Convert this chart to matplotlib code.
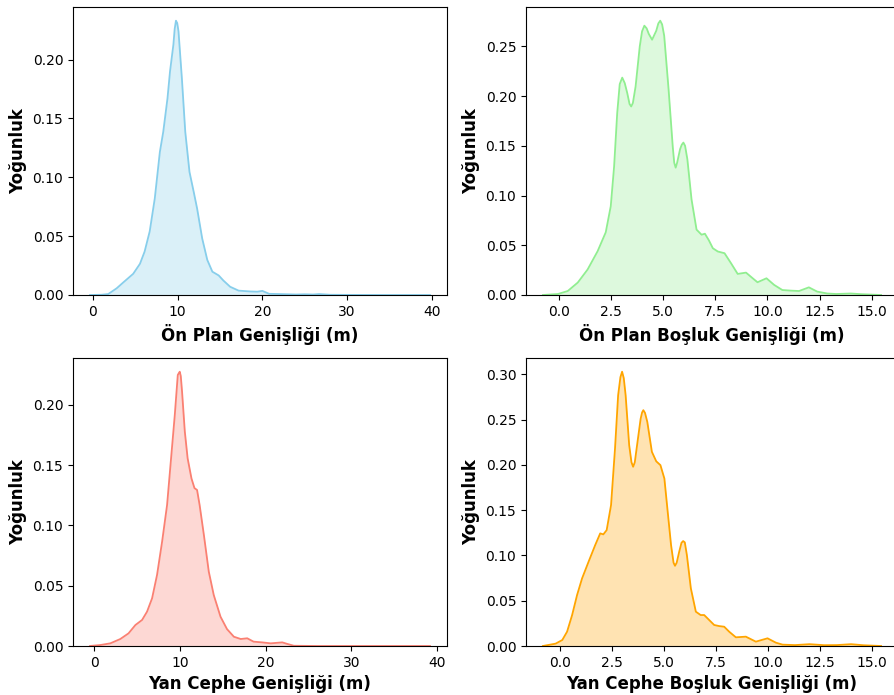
import numpy as np
import matplotlib
matplotlib.use("Agg")
import matplotlib.pyplot as plt

# ---------------------------------------------------------------
# Density curves (x in metres, y = density).
# ---------------------------------------------------------------
on_plan_x = [-0.35, 1.0, 1.8, 2.8, 3.6, 4.75, 5.55, 6.1, 6.7, 7.3, 7.9, 8.3, 8.8,
             9.1, 9.5, 9.65, 9.8, 9.95, 10.1, 10.5, 10.9, 11.4, 11.9, 12.3, 12.9,
             13.5, 14.1, 14.85, 15.4, 16.2, 17.2, 18.6, 19.4, 20.0, 20.8, 22.0,
             24.0, 25.0, 26.0, 26.7, 28.0, 30.0, 35.0, 39.8]
on_plan_y = [0, 0.0002, 0.0008, 0.0057, 0.0108, 0.018, 0.0265, 0.0369, 0.054,
             0.082, 0.1215, 0.1386, 0.167, 0.190, 0.2128, 0.226, 0.233, 0.231,
             0.224, 0.184, 0.1386, 0.1045, 0.0875, 0.0734, 0.048, 0.0298, 0.0198,
             0.0166, 0.0123, 0.007, 0.0037, 0.003, 0.0028, 0.0035, 0.001, 0.0008,
             0.0004, 0.0006, 0.0004, 0.0008, 0.0002, 0.0001, 0, 0]

on_bosluk_x = [-0.75, -0.03, 0.44, 0.92, 1.39, 1.87, 2.26, 2.5, 2.66, 2.81, 2.93,
               3.05, 3.17, 3.29, 3.4, 3.48, 3.56, 3.69, 3.89, 4.0, 4.11, 4.22,
               4.32, 4.48, 4.68, 4.78, 4.87, 4.96, 5.06, 5.27, 5.47, 5.54, 5.61,
               5.68, 5.82, 5.9, 5.98, 6.06, 6.17, 6.37, 6.61, 6.85, 7.01, 7.2,
               7.39, 7.63, 7.95, 8.26, 8.58, 8.98, 9.3, 9.53, 9.96, 10.33, 10.72,
               11.12, 11.52, 11.99, 12.39, 12.87, 13.3, 14.0, 14.5, 15.45]
on_bosluk_y = [0, 0.001, 0.004, 0.0125, 0.0256, 0.044, 0.063, 0.0892, 0.129,
               0.183, 0.212, 0.2185, 0.213, 0.203, 0.192, 0.1895, 0.193, 0.2096,
               0.250, 0.265, 0.2707, 0.268, 0.2625, 0.2566, 0.2656, 0.273,
               0.2757, 0.272, 0.2606, 0.2067, 0.149, 0.133, 0.128, 0.133, 0.1465,
               0.151, 0.1532, 0.150, 0.1364, 0.096, 0.0657, 0.0606, 0.0616,
               0.055, 0.047, 0.0437, 0.042, 0.032, 0.0212, 0.0225, 0.0168,
               0.0128, 0.0168, 0.0101, 0.005, 0.0044, 0.004, 0.0077, 0.0034,
               0.0015, 0.001, 0.0015, 0.0008, 0]

yan_x = [-0.5, 0.7, 1.87, 3.04, 4.0, 4.8, 5.58, 6.16, 6.75, 7.33, 7.92, 8.5, 9.0,
         9.4, 9.75, 9.88, 9.98, 10.1, 10.25, 10.57, 10.9, 11.35, 11.7, 12.0,
         12.3, 12.8, 13.37, 13.95, 14.74, 15.5, 16.3, 17.1, 17.86, 18.6, 19.6,
         20.6, 21.95, 22.5, 23.3, 26.0, 30.0, 35.0, 39.2]
yan_y = [0, 0.0008, 0.0022, 0.0058, 0.0105, 0.0174, 0.0216, 0.0285, 0.0396,
         0.059, 0.0866, 0.117, 0.1585, 0.1917, 0.2249, 0.2265, 0.2276, 0.224,
         0.211, 0.178, 0.1557, 0.139, 0.131, 0.1295, 0.117, 0.092, 0.0617,
         0.0423, 0.0243, 0.014, 0.0077, 0.0058, 0.0064, 0.0036, 0.003, 0.0022,
         0.003, 0.0018, 0.0002, 0, 0, 0, 0]

yan_bosluk_x = [-0.8, -0.19, 0.13, 0.36, 0.6, 0.84, 1.08, 1.39, 1.71, 1.95, 2.1,
                2.26, 2.47, 2.66, 2.81, 2.92, 3.0, 3.08, 3.17, 3.34, 3.45, 3.53,
                3.61, 3.72, 3.89, 3.96, 4.02, 4.1, 4.21, 4.43, 4.64, 4.84, 5.03,
                5.19, 5.35, 5.47, 5.54, 5.62, 5.74, 5.85, 5.93, 6.01, 6.11, 6.3,
                6.54, 6.77, 6.94, 7.18, 7.42, 7.66, 7.9, 8.14, 8.46, 8.94, 9.42,
                9.98, 10.38, 10.7, 11.3, 11.99, 12.7, 13.3, 13.99, 14.6, 15.43]
yan_bosluk_y = [0, 0.0026, 0.0066, 0.0158, 0.034, 0.0563, 0.0747, 0.093, 0.1115,
                0.1244, 0.1233, 0.128, 0.1556, 0.218, 0.277, 0.297, 0.303, 0.296,
                0.277, 0.222, 0.203, 0.198, 0.203, 0.222, 0.251, 0.258, 0.2605,
                0.2575, 0.2476, 0.2145, 0.204, 0.1998, 0.185, 0.148, 0.1115,
                0.092, 0.0886, 0.092, 0.104, 0.114, 0.1159, 0.1145, 0.1004,
                0.0637, 0.0379, 0.0342, 0.0342, 0.0287, 0.0232, 0.022, 0.0213,
                0.0158, 0.0096, 0.0103, 0.0048, 0.0085, 0.0037, 0.0015, 0.001,
                0.002, 0.0009, 0.001, 0.002, 0.0008, 0]

xlabels = ["Ön Plan Genişliği (m)", "Ön Plan Boşluk Genişliği (m)",
           "Yan Cephe Genişliği (m)", "Yan Cephe Boşluk Genişliği (m)"]
colors = ["skyblue", "lightgreen", "salmon", "orange"]

# ---------------------------------------------------------------
# Figure layout (pixel boxes of the four panels).
# ---------------------------------------------------------------
W, H = 894, 695
fig = plt.figure(figsize=(W / 100, H / 100), dpi=100)

boxes = [(73, 7, 447, 295), (526, 7, 898, 295),
         (73, 358, 447, 646), (526, 358, 898, 646)]
curves = [(on_plan_x, on_plan_y), (on_bosluk_x, on_bosluk_y),
          (yan_x, yan_y), (yan_bosluk_x, yan_bosluk_y)]

for (l, t, r, b), (x, y), lab, c in zip(boxes, curves, xlabels, colors):
    ax = fig.add_axes([l / W, 1 - b / H, (r - l) / W, (b - t) / H])
    x = np.array(x)
    y = np.array(y)
    ax.fill_between(x, 0, y, color=c, alpha=0.3, linewidth=0)
    ax.plot(x, y, color=c, linewidth=1.3)
    ax.set_ylim(bottom=0)
    ax.set_xlabel(lab, fontsize=12, fontweight="bold")
    ax.set_ylabel("Yoğunluk", fontsize=12, fontweight="bold")

plt.savefig("out.png", dpi=100)
